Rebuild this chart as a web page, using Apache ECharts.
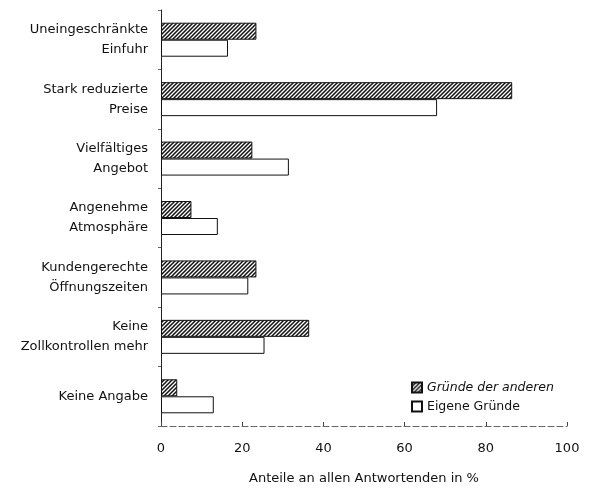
<!DOCTYPE html>
<html>
<head>
<meta charset="utf-8">
<script src="https://cdn.jsdelivr.net/npm/echarts@6/dist/echarts.min.js"></script>
<style>
  html, body { margin: 0; padding: 0; background: #fff; }
  #chart { width: 589px; height: 492px; }
</style>
</head>
<body>
<div id="chart"></div>
<script>
  var categories = [
    'Uneingeschränkte\nEinfuhr',
    'Stark reduzierte\nPreise',
    'Vielfältiges\nAngebot',
    'Angenehme\nAtmosphäre',
    'Kundengerechte\nÖffnungszeiten',
    'Keine\nZollkontrollen mehr',
    'Keine Angabe'
  ];
  var grundeAnderen = [23.5, 86.5, 22.5, 7.5, 23.5, 36.5, 4];
  var eigeneGrunde = [16.5, 68, 31.5, 14, 21.5, 25.5, 13];
  var xTicks = [0, 20, 40, 60, 80, 100];

  // diagonal hatch pattern for "Gründe der anderen"
  function hatch() {
    var c = document.createElement('canvas');
    c.width = 4; c.height = 4;
    var ctx = c.getContext('2d');
    ctx.fillStyle = '#fff';
    ctx.fillRect(0, 0, 4, 4);
    ctx.strokeStyle = '#111';
    ctx.lineWidth = 1.5;
    ctx.beginPath();
    ctx.moveTo(-1, 5); ctx.lineTo(5, -1);
    ctx.moveTo(-1, 1); ctx.lineTo(1, -1);
    ctx.moveTo(3, 5); ctx.lineTo(5, 3);
    ctx.stroke();
    return c;
  }

  var chart = echarts.init(document.getElementById('chart'));
  var font = '"DejaVu Sans", sans-serif';

  chart.setOption({
    backgroundColor: '#fff',
    animation: false,
    textStyle: { fontFamily: font, color: '#111' },
    grid: { left: 161, right: 22, top: 10, bottom: 66 },
    legend: {
      left: 406,
      top: 376,
      orient: 'vertical',
      icon: 'rect',
      itemWidth: 10,
      itemHeight: 10,
      itemGap: 6,
      formatter: function (name) {
        return name === 'Gründe der anderen' ? '{i|' + name + '}' : name;
      },
      textStyle: {
        fontSize: 12.5, color: '#111', fontFamily: font,
        rich: { i: { fontStyle: 'italic', fontSize: 12.5, fontFamily: font, color: '#111' } }
      },
      data: ['Gründe der anderen', 'Eigene Gründe']
    },
    xAxis: {
      type: 'value',
      min: 0,
      max: 100,
      interval: 20,
      name: 'Anteile an allen Antwortenden in %',
      nameLocation: 'middle',
      nameGap: 46,
      nameTextStyle: { fontSize: 13, color: '#111', fontFamily: font },
      axisLine: { show: true, lineStyle: { color: '#666', type: [6, 3], width: 1 } },
      axisTick: { show: true, inside: true, length: 4, lineStyle: { color: '#444' } },
      axisLabel: {
        fontSize: 13, color: '#111', margin: 16,
        formatter: function (v) { return xTicks.indexOf(v) >= 0 ? String(v) : ''; }
      },
      splitLine: { show: false }
    },
    yAxis: {
      type: 'category',
      inverse: true,
      data: categories,
      axisLine: { show: true, lineStyle: { color: '#222', width: 1 } },
      axisTick: { show: true, length: 3, lineStyle: { color: '#666' } },
      axisLabel: { fontSize: 13, color: '#111', lineHeight: 20, margin: 13, align: 'right' }
    },
    series: [
      {
        name: 'Gründe der anderen',
        type: 'bar',
        barWidth: 17,
        barGap: '0%',
        data: grundeAnderen,
        itemStyle: {
          color: { image: hatch(), repeat: 'repeat' },
          borderColor: '#111',
          borderWidth: 1
        }
      },
      {
        name: 'Eigene Gründe',
        type: 'bar',
        barWidth: 17,
        barGap: '0%',
        data: eigeneGrunde,
        itemStyle: { color: '#fff', borderColor: '#111', borderWidth: 1 }
      }
    ]
  });
</script>
</body>
</html>
